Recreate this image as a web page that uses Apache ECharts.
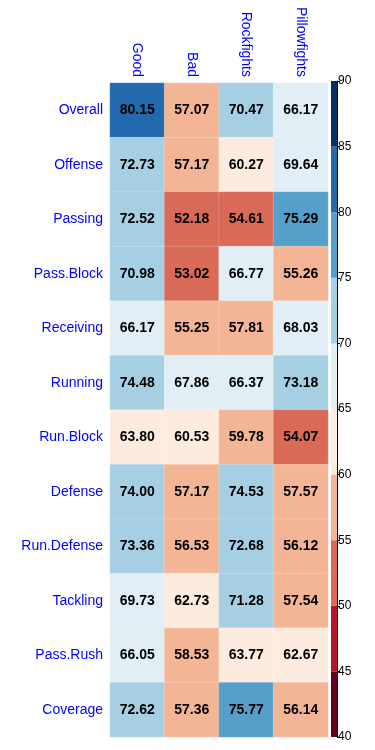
<!DOCTYPE html>
<html>
<head>
<meta charset="utf-8">
<script src="https://cdn.jsdelivr.net/npm/echarts@6/dist/echarts.min.js"></script>
<style>html,body{margin:0;padding:0;background:#fff;}#c{width:375px;height:750px;}</style>
</head>
<body>
<div id="c"></div>
<script>
const columns = ['Good', 'Bad', 'Rockfights', 'Pillowfights'];
const rows = ['Overall', 'Offense', 'Passing', 'Pass.Block', 'Receiving', 'Running', 'Run.Block', 'Defense', 'Run.Defense', 'Tackling', 'Pass.Rush', 'Coverage'];
const good = [80.15, 72.73, 72.52, 70.98, 66.17, 74.48, 63.80, 74.00, 73.36, 69.73, 66.05, 72.62];
const bad = [57.07, 57.17, 52.18, 53.02, 55.25, 67.86, 60.53, 57.17, 56.53, 62.73, 58.53, 57.36];
const rockfights = [70.47, 60.27, 54.61, 66.77, 57.81, 66.37, 59.78, 74.53, 72.68, 71.28, 63.77, 75.77];
const pillowfights = [66.17, 69.64, 75.29, 55.26, 68.03, 73.18, 54.07, 57.57, 56.12, 57.54, 62.67, 56.14];
const breaks = [40, 45, 50, 55, 60, 65, 70, 75, 80, 85, 90];
const palette = ['#67001f', '#b2182b', '#d96a57', '#f4b597', '#fdebe0', '#e2eef5', '#a6cfe3', '#55a0cb', '#2369ad', '#053061'];

const cols = [good, bad, rockfights, pillowfights];
const heat = [];
cols.forEach((arr, ci) => arr.forEach((v, ri) => heat.push([ci, ri, v])));

const pieces = palette.map((c, i) => ({ gte: breaks[i], lt: breaks[i + 1], color: c }));

const barSeries = palette.map((c, i) => ({
  type: 'bar', xAxisIndex: 1, yAxisIndex: 1, stack: 'cb',
  data: [breaks[i + 1] - breaks[i]], barWidth: '100%',
  itemStyle: { color: c }, silent: true, animation: false
}));
// base offset so stack starts at 40
barSeries[0].data = [breaks[1]];

const chart = echarts.init(document.getElementById('c'), null, { renderer: 'canvas' });
chart.setOption({
  animation: false,
  textStyle: { fontFamily: 'Liberation Sans, Arial, sans-serif' },
  grid: [
    { left: 110, top: 83, width: 218, height: 654 },
    { left: 331, top: 81, width: 6, height: 656 }
  ],
  xAxis: [
    { type: 'category', data: columns, position: 'top', gridIndex: 0,
      axisLine: { show: false }, axisTick: { show: false }, splitLine: { show: false },
      axisLabel: { rotate: 90, color: '#0000ff', fontSize: 14, margin: 6, fontFamily: 'Liberation Sans' } },
    { type: 'category', data: ['cb'], gridIndex: 1, show: false }
  ],
  yAxis: [
    { type: 'category', data: rows, inverse: true, gridIndex: 0,
      axisLine: { show: false }, axisTick: { show: false }, splitLine: { show: false },
      axisLabel: { color: '#0000ff', fontSize: 14, margin: 7, fontFamily: 'Liberation Sans' } },
    { type: 'value', gridIndex: 1, min: 40, max: 90, interval: 5, position: 'right',
      axisLine: { show: true, lineStyle: { color: '#000', width: 1 } },
      axisTick: { show: true, length: 3, inside: false, lineStyle: { color: '#000' } },
      splitLine: { show: false },
      axisLabel: { color: '#000', fontSize: 12, margin: 1, fontFamily: 'Liberation Sans' } }
  ],
  visualMap: {
    type: 'piecewise', show: false, seriesIndex: 0, dimension: 2, pieces: pieces
  },
  series: [
    { type: 'heatmap', xAxisIndex: 0, yAxisIndex: 0, data: heat,
      itemStyle: { borderColor: 'rgba(255,255,255,0.35)', borderWidth: 0.5 },
      label: { show: true, color: '#000', fontSize: 14, fontWeight: 'bold', fontFamily: 'Liberation Sans',
        formatter: p => p.value[2].toFixed(2) } }
  ].concat(barSeries)
});
</script>
</body>
</html>
